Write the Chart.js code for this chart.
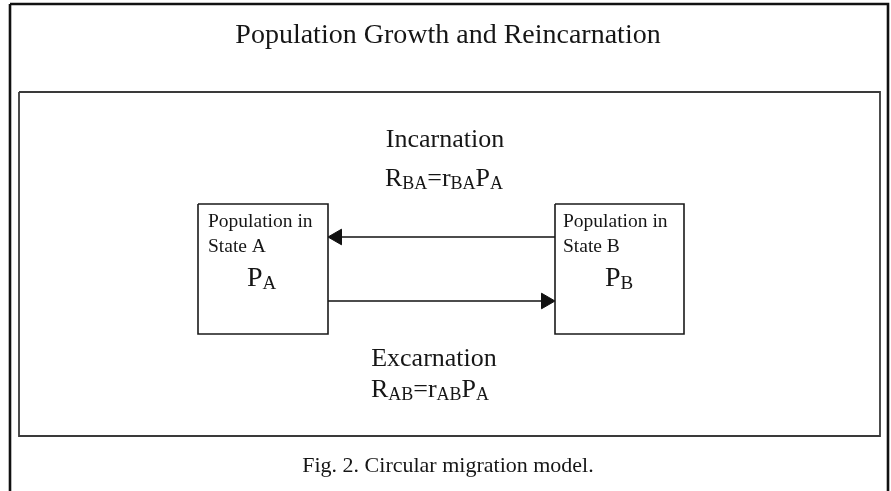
<!DOCTYPE html>
<html>
<head>
<meta charset="utf-8">
<title>Population Growth and Reincarnation</title>
<script src="https://cdn.jsdelivr.net/npm/chart.js@4.4.1/dist/chart.umd.min.js"></script>
<style>
  html, body { margin: 0; padding: 0; background: #fff; }
  #wrap { width: 891px; height: 491px; }
</style>
</head>
<body>
<div id="wrap"><canvas id="diagram" width="891" height="491"></canvas></div>
<script>
// Circular migration model - diagram drawn on a hidden linear x/y scale

// frames: [left, top, right, bottom] in picture units
const outerFrame = [10, 4, 888, 500];
const innerFrame = [19, 92, 880, 436];
const boxA = [198, 204, 328, 334];
const boxB = [555, 204, 684, 334];

// flows: [fromX, toX, y]
const incarnationFlow = [555, 328, 237];
const excarnationFlow = [328, 555, 301];

const titleText = 'Population Growth and Reincarnation';
const captionText = 'Fig. 2. Circular migration model.';
const boxLines = ['Population in', 'State A', 'State B'];

function rectPoints(r) {
    return [
        { x: r[0], y: r[1] }, { x: r[2], y: r[1] },
        { x: r[2], y: r[3] }, { x: r[0], y: r[3] }, { x: r[0], y: r[1] }
    ];
}

const HEAD = 9;

function flowPoints(f) {
    const dir = f[1] > f[0] ? 1 : -1;
    return [{ x: f[0], y: f[2] }, { x: f[1] - dir * HEAD, y: f[2] }];
}

function rectSet(r, color, width) {
    return {
        data: rectPoints(r), showLine: true, borderColor: color,
        borderWidth: width, pointRadius: 0, fill: false, tension: 0
    };
}

function flowSet(f) {
    const dir = f[1] > f[0] ? 1 : -1;
    return {
        data: flowPoints(f), showLine: true, borderColor: '#111',
        borderWidth: 1.6, backgroundColor: '#111', pointBorderColor: '#111',
        pointStyle: 'triangle', pointRadius: [0, HEAD], pointBorderWidth: 1,
        pointRotation: [0, dir * 90], tension: 0
    };
}

const SERIF = '"Liberation Serif", "Times New Roman", serif';

// draw text made of parts, some of them subscripts
function drawParts(ctx, parts, x, y, size, align) {
    const subSize = Math.round(size * 0.68);
    let total = 0;
    parts.forEach(p => {
        ctx.font = (p.sub ? subSize : size) + 'px ' + SERIF;
        p.w = ctx.measureText(p.t).width;
        total += p.w;
    });
    let cx = align === 'center' ? x - total / 2 : x;
    parts.forEach(p => {
        ctx.font = (p.sub ? subSize : size) + 'px ' + SERIF;
        ctx.fillText(p.t, cx, p.sub ? y + size * 0.12 : y);
        cx += p.w;
    });
}

const labelPlugin = {
    id: 'labels',
    afterDatasetsDraw(chart) {
        const ctx = chart.ctx;
        const xs = chart.scales.x, ys = chart.scales.y;
        const px = v => xs.getPixelForValue(v);
        const py = v => ys.getPixelForValue(v);
        ctx.save();
        ctx.fillStyle = '#161616';
        ctx.textAlign = 'left';
        ctx.textBaseline = 'alphabetic';

        drawParts(ctx, [{ t: titleText }], px(448), py(43), 28, 'center');

        drawParts(ctx, [{ t: 'Incarnation' }], px(445), py(147), 26, 'center');
        drawParts(ctx, [
            { t: 'R' }, { t: 'BA', sub: true }, { t: '=r' }, { t: 'BA', sub: true },
            { t: 'P' }, { t: 'A', sub: true }
        ], px(444), py(186), 26, 'center');

        drawParts(ctx, [{ t: 'Excarnation' }], px(434), py(366), 26, 'center');
        drawParts(ctx, [
            { t: 'R' }, { t: 'AB', sub: true }, { t: '=r' }, { t: 'AB', sub: true },
            { t: 'P' }, { t: 'A', sub: true }
        ], px(430), py(397), 26, 'center');

        drawParts(ctx, [{ t: boxLines[0] }], px(boxA[0] + 10), py(227), 19.5, 'left');
        drawParts(ctx, [{ t: boxLines[1] }], px(boxA[0] + 10), py(252), 19.5, 'left');
        drawParts(ctx, [{ t: 'P' }, { t: 'A', sub: true }], px(247), py(286), 28, 'left');

        drawParts(ctx, [{ t: boxLines[0] }], px(boxB[0] + 8), py(227), 19.5, 'left');
        drawParts(ctx, [{ t: boxLines[2] }], px(boxB[0] + 8), py(252), 19.5, 'left');
        drawParts(ctx, [{ t: 'P' }, { t: 'B', sub: true }], px(605), py(286), 28, 'left');

        drawParts(ctx, [{ t: captionText }], px(448), py(472), 22, 'center');
        ctx.restore();
    }
};

const whiteBg = {
    id: 'whiteBg',
    beforeDraw(chart) {
        const ctx = chart.ctx;
        ctx.save();
        ctx.fillStyle = '#fff';
        ctx.fillRect(0, 0, chart.width, chart.height);
        ctx.restore();
    }
};

new Chart(document.getElementById('diagram').getContext('2d'), {
    type: 'scatter',
    data: {
        datasets: [
            rectSet(outerFrame, '#111', 2.6),
            rectSet(innerFrame, '#3a3a3a', 1.8),
            rectSet(boxA, '#1a1a1a', 1.6),
            rectSet(boxB, '#1a1a1a', 1.6),
            flowSet(incarnationFlow),
            flowSet(excarnationFlow)
        ]
    },
    options: {
        responsive: false,
        animation: false,
        layout: { padding: 0, autoPadding: false },
        plugins: { legend: { display: false }, tooltip: { enabled: false } },
        scales: {
            x: { type: 'linear', min: 0, max: 891, display: false },
            y: { type: 'linear', min: 0, max: 491, reverse: true, display: false }
        },
        clip: false
    },
    plugins: [whiteBg, labelPlugin]
});
</script>
</body>
</html>
